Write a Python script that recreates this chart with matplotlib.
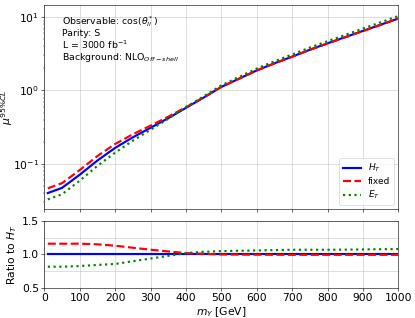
import numpy as np
import matplotlib
matplotlib.use("Agg")
import matplotlib.pyplot as plt

plt.rcParams['font.size'] = 15

# mass points [GeV]
m_y = [10, 50, 100, 150, 200, 250, 300, 350, 400, 450, 500,
       550, 600, 650, 700, 750, 800, 850, 900, 950, 1000]

# 95% CL limits for the three scale choices
mu_ht = [0.040, 0.047, 0.071, 0.111, 0.165, 0.23, 0.31, 0.42, 0.58, 0.80, 1.12,
         1.45, 1.88, 2.35, 2.90, 3.60, 4.40, 5.35, 6.50, 7.90, 9.60]
mu_fixed = [0.0464, 0.0545, 0.0824, 0.1277, 0.1865, 0.253, 0.332, 0.439, 0.592, 0.808, 1.12,
            1.447, 1.874, 2.34, 2.886, 3.582, 4.378, 5.323, 6.468, 7.86, 9.552]
mu_et = [0.0328, 0.0385, 0.0589, 0.0938, 0.1419, 0.207, 0.2914, 0.4116, 0.5916, 0.832, 1.176,
         1.530, 1.993, 2.503, 3.103, 3.852, 4.708, 5.735, 6.988, 8.516, 10.368]

m_y = np.array(m_y)
mu_ht = np.array(mu_ht)
mu_fixed = np.array(mu_fixed)
mu_et = np.array(mu_et)

dpi = 51.875
fig = plt.figure(figsize=(415 / dpi, 318 / dpi), dpi=dpi)
ax1 = fig.add_axes([0.1067, 0.3418, 0.8535, 0.6415])
ax2 = fig.add_axes([0.1067, 0.0934, 0.8535, 0.2126])

ax1.plot(m_y, mu_ht, color='blue', lw=3, label='$H_T$')
ax1.plot(m_y, mu_fixed, color='red', lw=3, ls='--', label='fixed')
ax1.plot(m_y, mu_et, color='green', lw=3, ls=':', label='$E_T$')
ax1.set_yscale('log')
ax1.set_xlim(0, 1000)
ax1.set_ylim(0.024, 14.5)
ax1.set_xticks(np.arange(0, 1001, 100))
ax1.tick_params(labelbottom=False)
ax1.set_ylabel(r'$\mu^{95\%CL}$', fontsize=15)
ax1.yaxis.set_label_coords(-0.082, 0.5)
ax1.grid(True, alpha=0.7)
ax1.legend(loc='lower right', fontsize=12.5, labelspacing=0.3)
ax1.text(0.05, 0.955,
         "Observable: $\\cos(\\theta^*_{ll})$\nParity: S\n"
         "L = 3000 fb$^{-1}$\nBackground: NLO$_{Off-shell}$",
         transform=ax1.transAxes, va='top', ha='left', fontsize=13,
         linespacing=1.0)

ax2.plot(m_y, mu_ht / mu_ht, color='blue', lw=3)
ax2.plot(m_y, mu_fixed / mu_ht, color='red', lw=3, ls='--')
ax2.plot(m_y, mu_et / mu_ht, color='green', lw=3, ls=':')
ax2.set_xlim(0, 1000)
ax2.set_ylim(0.5, 1.5)
ax2.set_xticks(np.arange(0, 1001, 100))
ax2.set_yticks([0.5, 1.0, 1.5])
ax2.set_yticks([0.75, 1.25], minor=True)
ax2.tick_params(axis='y', which='minor', length=0)
ax2.grid(True, which='both', alpha=0.7)
ax2.set_ylabel('Ratio to $H_T$')
ax2.set_xlabel('$m_Y$ [GeV]', labelpad=2)

fig.savefig('out.png', dpi=dpi)
